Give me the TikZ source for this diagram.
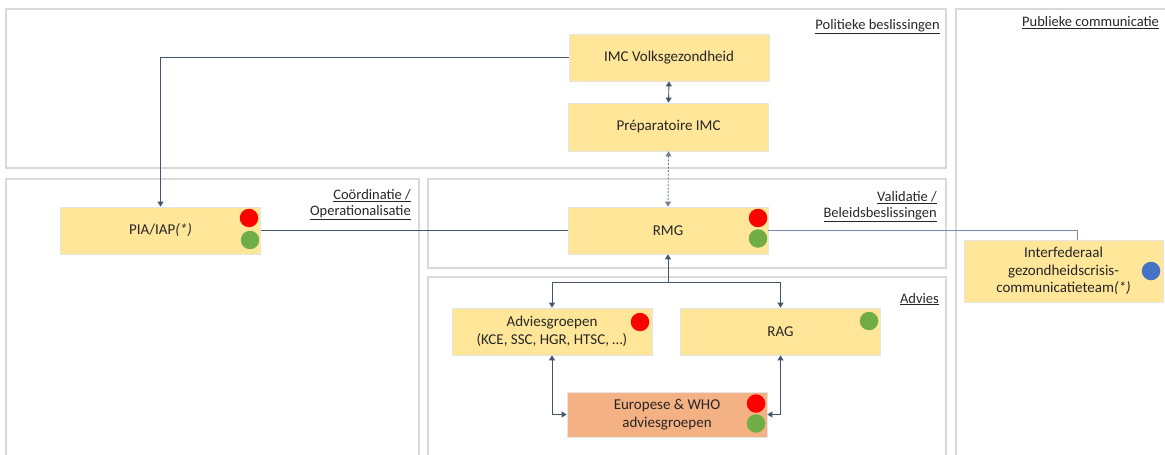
\documentclass[tikz,border=0pt]{standalone}
\usepackage{fontspec}
\setmainfont{Carlito}
\usetikzlibrary{arrows.meta,calc}
\definecolor{panel}{HTML}{D9D9D9}
\definecolor{boxfill}{HTML}{FFE699}
\definecolor{eufill}{HTML}{F4B183}
\definecolor{conn}{HTML}{44546A}
\definecolor{conntwo}{HTML}{7A8CAA}
\definecolor{dotred}{HTML}{FF0000}
\definecolor{dotgreen}{HTML}{70AD47}
\definecolor{dotblue}{HTML}{4472C4}
\definecolor{txt}{HTML}{262626}
\begin{document}
\begin{tikzpicture}[x=1pt,y=-1pt,
  panelbox/.style={draw=panel,line width=1.5pt},
  plabel/.style={anchor=base east,align=right,text=txt,inner sep=0pt,font=\fontsize{14.5}{15.5}\selectfont},
  card/.style={draw=black!10,line width=0.8pt,fill=boxfill,minimum width=200pt,minimum height=47pt,
    text=txt,align=center,inner sep=0pt,font=\fontsize{15}{18}\selectfont},
  dot/.style={circle,minimum size=18.5pt,inner sep=0pt},
  link/.style={draw=conn,line width=0.9pt},
  tipend/.style={-{Triangle[width=6pt,length=5pt]}},
  tipboth/.style={{Triangle[width=6pt,length=5pt]}-{Triangle[width=6pt,length=5pt]}}
]
\useasboundingbox (0,0) rectangle (1165,455);
\clip (0,0) rectangle (1165,455);

% panels
\draw[panelbox] (6,9) rectangle (946,168);
\draw[panelbox] (6,179) rectangle (419,470);
\draw[panelbox] (428,179) rectangle (946,268);
\draw[panelbox] (428,277) rectangle (946,470);
\draw[panelbox] (956,9) rectangle (1180,470);

% panel labels
\node[plabel] (lpol) at (940,29) {\underline{Politieke beslissingen}};
\node[plabel] (lcoo) at (411,215) {\underline{Coördinatie /}\\\underline{Operationalisatie}};
\node[plabel] (lval) at (937,217) {\underline{Validatie /}\\\underline{Beleidsbeslissingen}};
\node[plabel] (ladv) at (939,303) {\underline{Advies}};
\node[plabel,anchor=base west] (lpub) at (1022,27) {\underline{Publieke communicatie}};

% boxes
\node[card] (IMC) at (669,57.5) {IMC Volksgezondheid};
\node[card,minimum height=48pt] (PREP) at (668.5,127) {Préparatoire IMC};
\node[card] (PIA) at (160.5,230.5) {PIA/IAP\textit{(*)}};
\node[card] (RMG) at (668,230.5) {RMG};
\node[card] (ADV) at (552,331.5) {Adviesgroepen\\(KCE, SSC, HGR, HTSC, …)};
\node[card] (RAG) at (780.5,331.5) {RAG};
\node[card,fill=eufill,minimum height=45pt] (EU) at (667,414.5) {Europese \& WHO\\adviesgroepen};
\node[card,minimum width=199pt,minimum height=62pt,font=\fontsize{15}{17.5}\selectfont] (IF) at (1063.5,271) {Interfederaal\\gezondheidscrisis-\\communicatieteam\textit{(*)}};

% status dots
\node[dot,fill=dotred] (piar) at (249,218) {};
\node[dot,fill=dotgreen] (piag) at (250,240) {};
\node[dot,fill=dotred] (rmgr) at (758,218) {};
\node[dot,fill=dotgreen] (rmgg) at (758,238.5) {};
\node[dot,fill=dotred] (advr) at (640,322) {};
\node[dot,fill=dotgreen] (ragg) at (869,321) {};
\node[dot,fill=dotred] (eur) at (756,403.5) {};
\node[dot,fill=dotgreen] (eug) at (756,423.5) {};
\node[dot,fill=dotblue] (ifb) at (1151,271) {};

% connectors
\draw[link,tipboth] (IMC.south) -- (PREP.north);
\draw[link,tipboth,draw=conn!75,dash pattern=on 2pt off 1.5pt] (PREP.south) -- (RMG.north);
\draw[link,tipend] (IMC.west) -| (PIA.north);
\draw[link] (PIA.east) -- (RMG.west);
\coordinate (ifin) at ([xshift=13.5pt]IF.north);
\draw[link,draw=conntwo] (RMG.east) -| (ifin);
\coordinate (junc) at (668,282);
\draw[link,tipend] (junc) -- (RMG.south);
\draw[link,tipend] (junc) -| (ADV.north);
\draw[link,tipend] (junc) -| (RAG.north);
\draw[link,tipboth] (ADV.south) |- (EU.west);
\draw[link,tipboth] (RAG.south) |- (EU.east);
\end{tikzpicture}
\end{document}
